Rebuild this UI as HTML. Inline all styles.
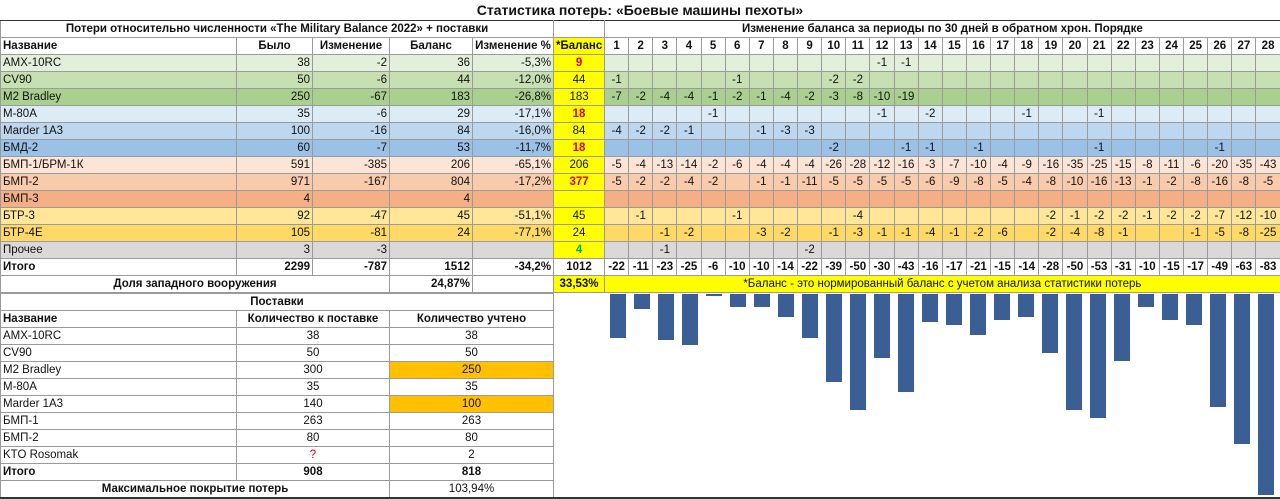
<!DOCTYPE html>
<html><head><meta charset="utf-8">
<style>
*{margin:0;padding:0;box-sizing:border-box}
body{width:1280px;height:499px;background:#fff;position:relative;overflow:hidden;font-family:"Liberation Sans","DejaVu Sans",sans-serif;font-size:11.5px;color:#111}
.title{position:absolute;left:0;top:0;width:1280px;height:20px;text-align:center;font-weight:bold;font-size:14px;line-height:20px}
table{border-collapse:collapse;table-layout:fixed;position:absolute}
td{height:17px;border:1px solid #9a9a9a;padding:0 2px;white-space:nowrap;overflow:hidden;line-height:15px}
#t1{left:0;top:20px;width:1280px}
#t1 td.r{text-align:right}
#t1 td.c{text-align:center}
.b{font-weight:bold}
.y{background:#ffff00;text-align:center}
.red{color:#e00000}
.grn{color:#00b050}
#t1 tr.d td:nth-child(n+7){text-align:center;padding:0}
.g1{background:#e2efda}.g2{background:#c6e0b4}.g3{background:#a9d08e}
.b1{background:#ddebf7}.b2{background:#bdd7ee}.b3{background:#9bc2e6}
.o1{background:#fce4d6}.o2{background:#f8cbad}.o3{background:#f4b084}
.y1{background:#ffe699}.y2{background:#ffd966}.gr{background:#d9d9d9}
#t2{left:0;top:293px;width:553px}
#t2 td.c{text-align:center}
.o{background:#ffc000}
svg{position:absolute;left:0;top:0}
</style></head><body>
<div class="title">Статистика потерь: «Боевые машины пехоты»</div>
<table id="t1">
<colgroup><col style="width:236px"><col style="width:76px"><col style="width:77px"><col style="width:83px"><col style="width:81px"><col style="width:51px">
<col style="width:24.14px"><col style="width:24.14px"><col style="width:24.14px"><col style="width:24.14px"><col style="width:24.14px"><col style="width:24.14px"><col style="width:24.14px"><col style="width:24.14px"><col style="width:24.14px"><col style="width:24.14px"><col style="width:24.14px"><col style="width:24.14px"><col style="width:24.14px"><col style="width:24.14px"><col style="width:24.14px"><col style="width:24.14px"><col style="width:24.14px"><col style="width:24.14px"><col style="width:24.14px"><col style="width:24.14px"><col style="width:24.14px"><col style="width:24.14px"><col style="width:24.14px"><col style="width:24.14px"><col style="width:24.14px"><col style="width:24.14px"><col style="width:24.14px"><col style="width:24.14px"></colgroup>
<tr><td colspan="5" class="b c" style="border-top:1px solid #333">Потери относительно численности «The Military Balance 2022» + поставки</td><td style="border-top:1px solid #333"></td><td colspan="28" class="b c" style="border-top:1px solid #333">Изменение баланса за периоды по 30 дней в обратном хрон. Порядке</td></tr>
<tr class="d b"><td>Название</td><td class="c">Было</td><td class="c">Изменение</td><td class="c">Баланс</td><td class="c">Изменение %</td><td class="y">*Баланс</td><td>1</td><td>2</td><td>3</td><td>4</td><td>5</td><td>6</td><td>7</td><td>8</td><td>9</td><td>10</td><td>11</td><td>12</td><td>13</td><td>14</td><td>15</td><td>16</td><td>17</td><td>18</td><td>19</td><td>20</td><td>21</td><td>22</td><td>23</td><td>24</td><td>25</td><td>26</td><td>27</td><td>28</td></tr>
<tr class="d g1"><td>AMX-10RC</td><td class="r">38</td><td class="r">-2</td><td class="r">36</td><td class="r">-5,3%</td><td class="y red b">9</td><td></td><td></td><td></td><td></td><td></td><td></td><td></td><td></td><td></td><td></td><td></td><td>-1</td><td>-1</td><td></td><td></td><td></td><td></td><td></td><td></td><td></td><td></td><td></td><td></td><td></td><td></td><td></td><td></td><td></td></tr>
<tr class="d g2"><td>CV90</td><td class="r">50</td><td class="r">-6</td><td class="r">44</td><td class="r">-12,0%</td><td class="y">44</td><td>-1</td><td></td><td></td><td></td><td></td><td>-1</td><td></td><td></td><td></td><td>-2</td><td>-2</td><td></td><td></td><td></td><td></td><td></td><td></td><td></td><td></td><td></td><td></td><td></td><td></td><td></td><td></td><td></td><td></td><td></td></tr>
<tr class="d g3"><td>M2 Bradley</td><td class="r">250</td><td class="r">-67</td><td class="r">183</td><td class="r">-26,8%</td><td class="y">183</td><td>-7</td><td>-2</td><td>-4</td><td>-4</td><td>-1</td><td>-2</td><td>-1</td><td>-4</td><td>-2</td><td>-3</td><td>-8</td><td>-10</td><td>-19</td><td></td><td></td><td></td><td></td><td></td><td></td><td></td><td></td><td></td><td></td><td></td><td></td><td></td><td></td><td></td></tr>
<tr class="d b1"><td>M-80A</td><td class="r">35</td><td class="r">-6</td><td class="r">29</td><td class="r">-17,1%</td><td class="y red b">18</td><td></td><td></td><td></td><td></td><td>-1</td><td></td><td></td><td></td><td></td><td></td><td></td><td>-1</td><td></td><td>-2</td><td></td><td></td><td></td><td>-1</td><td></td><td></td><td>-1</td><td></td><td></td><td></td><td></td><td></td><td></td><td></td></tr>
<tr class="d b2"><td>Marder 1A3</td><td class="r">100</td><td class="r">-16</td><td class="r">84</td><td class="r">-16,0%</td><td class="y">84</td><td>-4</td><td>-2</td><td>-2</td><td>-1</td><td></td><td></td><td>-1</td><td>-3</td><td>-3</td><td></td><td></td><td></td><td></td><td></td><td></td><td></td><td></td><td></td><td></td><td></td><td></td><td></td><td></td><td></td><td></td><td></td><td></td><td></td></tr>
<tr class="d b3"><td>БМД-2</td><td class="r">60</td><td class="r">-7</td><td class="r">53</td><td class="r">-11,7%</td><td class="y red b">18</td><td></td><td></td><td></td><td></td><td></td><td></td><td></td><td></td><td></td><td>-2</td><td></td><td></td><td>-1</td><td>-1</td><td></td><td>-1</td><td></td><td></td><td></td><td></td><td>-1</td><td></td><td></td><td></td><td></td><td>-1</td><td></td><td></td></tr>
<tr class="d o1"><td>БМП-1/БРМ-1К</td><td class="r">591</td><td class="r">-385</td><td class="r">206</td><td class="r">-65,1%</td><td class="y">206</td><td>-5</td><td>-4</td><td>-13</td><td>-14</td><td>-2</td><td>-6</td><td>-4</td><td>-4</td><td>-4</td><td>-26</td><td>-28</td><td>-12</td><td>-16</td><td>-3</td><td>-7</td><td>-10</td><td>-4</td><td>-9</td><td>-16</td><td>-35</td><td>-25</td><td>-15</td><td>-8</td><td>-11</td><td>-6</td><td>-20</td><td>-35</td><td>-43</td></tr>
<tr class="d o2"><td>БМП-2</td><td class="r">971</td><td class="r">-167</td><td class="r">804</td><td class="r">-17,2%</td><td class="y red b">377</td><td>-5</td><td>-2</td><td>-2</td><td>-4</td><td>-2</td><td></td><td>-1</td><td>-1</td><td>-11</td><td>-5</td><td>-5</td><td>-5</td><td>-5</td><td>-6</td><td>-9</td><td>-8</td><td>-5</td><td>-4</td><td>-8</td><td>-10</td><td>-16</td><td>-13</td><td>-1</td><td>-2</td><td>-8</td><td>-16</td><td>-8</td><td>-5</td></tr>
<tr class="d o3"><td>БМП-3</td><td class="r">4</td><td class="r"></td><td class="r">4</td><td class="r"></td><td class="y"></td><td></td><td></td><td></td><td></td><td></td><td></td><td></td><td></td><td></td><td></td><td></td><td></td><td></td><td></td><td></td><td></td><td></td><td></td><td></td><td></td><td></td><td></td><td></td><td></td><td></td><td></td><td></td><td></td></tr>
<tr class="d y1"><td>БТР-3</td><td class="r">92</td><td class="r">-47</td><td class="r">45</td><td class="r">-51,1%</td><td class="y">45</td><td></td><td>-1</td><td></td><td></td><td></td><td>-1</td><td></td><td></td><td></td><td></td><td>-4</td><td></td><td></td><td></td><td></td><td></td><td></td><td></td><td>-2</td><td>-1</td><td>-2</td><td>-2</td><td>-1</td><td>-2</td><td>-2</td><td>-7</td><td>-12</td><td>-10</td></tr>
<tr class="d y2"><td>БТР-4Е</td><td class="r">105</td><td class="r">-81</td><td class="r">24</td><td class="r">-77,1%</td><td class="y">24</td><td></td><td></td><td>-1</td><td>-2</td><td></td><td></td><td>-3</td><td>-2</td><td></td><td>-1</td><td>-3</td><td>-1</td><td>-1</td><td>-4</td><td>-1</td><td>-2</td><td>-6</td><td></td><td>-2</td><td>-4</td><td>-8</td><td>-1</td><td></td><td></td><td>-1</td><td>-5</td><td>-8</td><td>-25</td></tr>
<tr class="d gr"><td>Прочее</td><td class="r">3</td><td class="r">-3</td><td class="r"></td><td class="r"></td><td class="y grn b">4</td><td></td><td></td><td>-1</td><td></td><td></td><td></td><td></td><td></td><td>-2</td><td></td><td></td><td></td><td></td><td></td><td></td><td></td><td></td><td></td><td></td><td></td><td></td><td></td><td></td><td></td><td></td><td></td><td></td><td></td></tr>
<tr class="d b"><td>Итого</td><td class="r">2299</td><td class="r">-787</td><td class="r">1512</td><td class="r">-34,2%</td><td class="c">1012</td><td>-22</td><td>-11</td><td>-23</td><td>-25</td><td>-6</td><td>-10</td><td>-10</td><td>-14</td><td>-22</td><td>-39</td><td>-50</td><td>-30</td><td>-43</td><td>-16</td><td>-17</td><td>-21</td><td>-15</td><td>-14</td><td>-28</td><td>-50</td><td>-53</td><td>-31</td><td>-10</td><td>-15</td><td>-17</td><td>-49</td><td>-63</td><td>-83</td></tr>
<tr><td colspan="3" class="b c">Доля западного вооружения</td><td class="r b">24,87%</td><td></td><td class="y b">33,53%</td><td colspan="28" class="y">*Баланс - это нормированный баланс с учетом анализа статистики потерь</td></tr>
</table>
<table id="t2">
<colgroup><col style="width:236px"><col style="width:153px"><col style="width:164px"></colgroup>
<tr><td colspan="3" class="b c">Поставки</td></tr>
<tr class="b"><td>Название</td><td class="c">Количество к поставке</td><td class="c">Количество учтено</td></tr>
<tr><td>AMX-10RC</td><td class="c">38</td><td class="c">38</td></tr>
<tr><td>CV90</td><td class="c">50</td><td class="c">50</td></tr>
<tr><td>M2 Bradley</td><td class="c">300</td><td class="c o">250</td></tr>
<tr><td>M-80A</td><td class="c">35</td><td class="c">35</td></tr>
<tr><td>Marder 1A3</td><td class="c">140</td><td class="c o">100</td></tr>
<tr><td>БМП-1</td><td class="c">263</td><td class="c">263</td></tr>
<tr><td>БМП-2</td><td class="c">80</td><td class="c">80</td></tr>
<tr><td>KTO Rosomak</td><td class="c red">?</td><td class="c">2</td></tr>
<tr class="b"><td>Итого</td><td class="c">908</td><td class="c">818</td></tr>
<tr><td colspan="2" class="b c">Максимальное покрытие потерь</td><td class="c">103,94%</td></tr>
</table>
<svg width="1280" height="499" style="pointer-events:none">
<g fill="#3b5f94">
<rect x="610" y="294" width="16" height="44"/>
<rect x="634" y="294" width="16" height="15"/>
<rect x="658" y="294" width="16" height="46"/>
<rect x="682" y="294" width="16" height="51"/>
<rect x="706" y="294" width="16" height="2"/>
<rect x="730" y="294" width="16" height="13"/>
<rect x="754" y="294" width="16" height="13"/>
<rect x="778" y="294" width="16" height="23"/>
<rect x="802" y="294" width="16" height="44"/>
<rect x="826" y="294" width="16" height="88"/>
<rect x="850" y="294" width="16" height="116"/>
<rect x="874" y="294" width="16" height="64"/>
<rect x="898" y="294" width="16" height="98"/>
<rect x="922" y="294" width="16" height="28"/>
<rect x="946" y="294" width="16" height="31"/>
<rect x="970" y="294" width="16" height="41"/>
<rect x="994" y="294" width="16" height="26"/>
<rect x="1018" y="294" width="16" height="23"/>
<rect x="1042" y="294" width="16" height="59"/>
<rect x="1066" y="294" width="16" height="116"/>
<rect x="1090" y="294" width="16" height="124"/>
<rect x="1114" y="294" width="16" height="67"/>
<rect x="1138" y="294" width="16" height="13"/>
<rect x="1162" y="294" width="16" height="26"/>
<rect x="1186" y="294" width="16" height="31"/>
<rect x="1210" y="294" width="16" height="113"/>
<rect x="1234" y="294" width="16" height="150"/>
<rect x="1258" y="294" width="16" height="201"/>
</g>
<rect x="0" y="497" width="1280" height="2" fill="#333"/>
</svg>
</body></html>
